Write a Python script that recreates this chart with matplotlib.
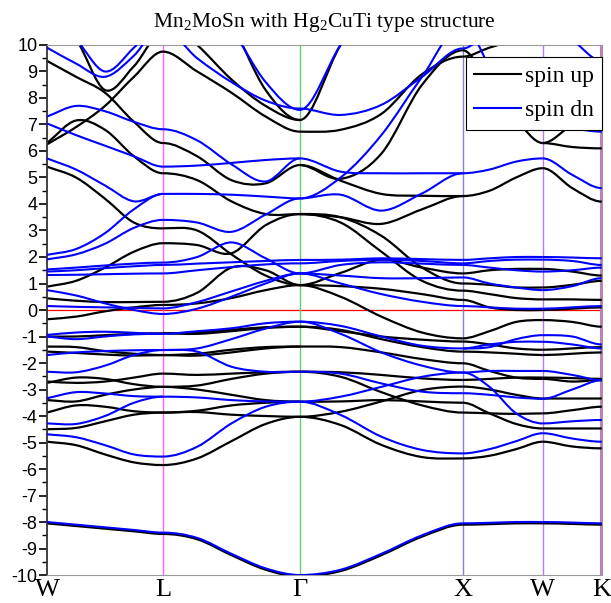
import numpy as np
import matplotlib.pyplot as plt
from matplotlib.lines import Line2D
from matplotlib.path import Path
from matplotlib.patches import PathPatch

plt.rcParams['mathtext.fontset'] = 'custom'
plt.rcParams['mathtext.rm'] = 'Liberation Serif'

# path: W - L - Gamma - X - W - K (distance along the path)
kpath = [0, 116, 253, 416, 496, 555]
klabels = ['W', 'L', 'Γ', 'X', 'W', 'K']
ncols = [5, 5, 5, 4, 3]

# energies (eV) read at evenly spaced points along each segment
up_WL = [
    [-8.05, -8.15, -8.25, -8.35, -8.45],
    [-4.97, -5.1, -5.45, -5.75, -5.85],
    [-4.5, -4.45, -4.2, -3.95, -3.87],
    [-3.87, -3.6, -3.65, -3.82, -3.87],
    [-3.4, -3.45, -3.2, -3.0, -2.9],
    [-2.75, -2.55, -2.6, -2.8, -2.9],
    [-2.7, -2.75, -2.7, -2.55, -2.4],
    [-1.57, -1.62, -1.68, -1.72, -1.7],
    [-1.38, -1.4, -1.55, -1.65, -1.7],
    [-1.0, -1.0, -0.95, -0.9, -0.88],
    [-0.35, -0.25, -0.05, 0.1, 0.19],
    [0.44, 0.35, 0.3, 0.3, 0.31],
    [0.88, 1.1, 1.6, 2.2, 2.52],
    [5.41, 5.0, 4.2, 3.3, 3.08],
    [6.3, 7.15, 6.8, 5.8, 5.16],
    [6.25, 6.9, 7.7, 8.8, 9.75],
    [9.4, 8.8, 8.2, 7.1, 6.3],
    [11.0, 10.2, 8.3, 9.2, 10.5],
]
dn_WL = [
    [-8.0, -8.1, -8.2, -8.3, -8.4],
    [-4.69, -4.8, -5.1, -5.45, -5.53],
    [-4.28, -4.3, -4.0, -3.5, -3.27],
    [-3.33, -3.1, -3.15, -3.25, -3.27],
    [-2.33, -2.35, -2.1, -1.7, -1.51],
    [-1.7, -1.6, -1.55, -1.52, -1.51],
    [-0.94, -0.85, -0.82, -0.86, -0.9],
    [-1.0, -1.1, -1.0, -0.92, -0.9],
    [0.15, 0.12, 0.1, 0.08, 0.06],
    [0.75, 0.55, 0.25, 0.0, -0.15],
    [1.32, 1.33, 1.35, 1.37, 1.38],
    [1.45, 1.5, 1.58, 1.65, 1.7],
    [1.53, 1.6, 1.68, 1.75, 1.79],
    [1.91, 2.1, 2.5, 3.1, 3.4],
    [2.08, 2.3, 2.9, 3.8, 4.38],
    [5.72, 5.3, 4.7, 4.1, 4.38],
    [7.04, 6.6, 6.2, 5.8, 5.41],
    [7.3, 7.7, 7.5, 7.1, 6.82],
    [9.9, 9.3, 8.8, 9.6, 10.8],
    [11.0, 10.2, 9.0, 9.9, 11.0],
]

up_LG = [
    [-8.45, -8.65, -9.25, -9.8, -10.05],
    [-5.85, -5.6, -4.95, -4.3, -4.03],
    [-3.87, -3.85, -3.95, -4.0, -4.03],
    [-3.87, -3.8, -3.6, -3.5, -3.46],
    [-2.9, -2.85, -2.6, -2.4, -2.33],
    [-2.9, -3.0, -3.2, -3.4, -3.46],
    [-2.4, -2.45, -2.4, -2.35, -2.33],
    [-1.7, -1.65, -1.5, -1.4, -1.38],
    [-1.7, -1.72, -1.6, -1.45, -1.38],
    [-0.88, -0.85, -0.75, -0.65, -0.63],
    [-0.88, -0.9, -0.8, -0.68, -0.63],
    [0.19, 0.25, 0.45, 0.75, 0.94],
    [0.31, 0.65, 1.6, 1.5, 0.94],
    [2.52, 2.45, 2.14, 3.2, 3.62],
    [3.08, 3.0, 2.1, 1.3, 0.94],
    [5.16, 4.9, 4.1, 3.62, 3.62],
    [6.3, 5.8, 4.9, 4.78, 5.47],
    [9.75, 9.0, 8.2, 7.3, 6.73],
    [11.0, 10.0, 8.7, 7.7, 7.17],
    [14.0, 12.5, 10.8, 8.3, 7.17],
]
dn_LG = [
    [-8.4, -8.6, -9.2, -9.75, -10.0],
    [-5.53, -5.16, -4.28, -3.65, -3.46],
    [-3.27, -3.3, -3.4, -3.45, -3.46],
    [-1.51, -1.57, -2.14, -2.33, -2.33],
    [-1.51, -1.45, -1.1, -0.7, -0.44],
    [-0.9, -0.8, -0.69, -0.5, -0.44],
    [-0.15, 0.05, 0.5, 1.0, 1.38],
    [0.06, 0.3, 0.7, 1.1, 1.38],
    [1.38, 1.5, 1.62, 1.72, 1.76],
    [1.7, 1.75, 1.8, 1.85, 1.89],
    [1.79, 2.0, 2.55, 1.95, 1.38],
    [3.4, 3.3, 2.95, 3.6, 4.21],
    [4.38, 4.38, 4.35, 4.28, 4.21],
    [5.41, 5.45, 5.55, 5.66, 5.72],
    [6.82, 6.4, 5.5, 4.85, 5.72],
    [10.6, 9.5, 8.6, 7.9, 7.6],
    [13.0, 12.0, 10.6, 8.6, 7.55],
]

up_GX = [
    [-10.05, -9.85, -9.25, -8.55, -8.1],
    [-4.03, -4.34, -5.09, -5.55, -5.6],
    [-4.03, -3.84, -3.45, -3.02, -2.89],
    [-3.46, -3.45, -3.4, -3.45, -3.5],
    [-2.33, -2.52, -3.1, -3.6, -3.87],
    [-2.33, -2.35, -2.45, -2.58, -2.64],
    [-1.38, -1.4, -1.6, -1.85, -2.01],
    [-0.63, -0.75, -1.1, -1.4, -1.57],
    [-0.63, -0.8, -1.0, -1.12, -1.19],
    [0.94, 0.5, -0.25, -0.85, -1.07],
    [0.94, 0.9, 0.8, 0.6, 0.38],
    [0.94, 1.4, 1.9, 1.6, 1.38],
    [3.62, 3.3, 2.2, 1.1, 0.73],
    [3.62, 3.5, 2.8, 1.6, 1.0],
    [3.62, 3.5, 3.25, 3.8, 4.3],
    [5.47, 4.88, 4.38, 4.31, 4.3],
    [5.47, 4.95, 5.9, 8.5, 9.8],
    [6.73, 6.8, 7.4, 8.9, 9.56],
    [7.17, 10.0, 12.0, 13.0, 14.0],
]
dn_GX = [
    [-10.0, -9.8, -9.2, -8.5, -8.05],
    [-3.46, -3.96, -4.78, -5.28, -5.41],
    [-3.46, -3.27, -2.9, -2.52, -2.36],
    [-2.33, -2.4, -2.77, -3.08, -3.14],
    [-0.44, -0.9, -1.6, -2.1, -2.36],
    [-0.44, -0.6, -1.0, -1.35, -1.45],
    [1.38, 1.0, 0.6, 0.31, 0.15],
    [1.38, 1.3, 1.2, 1.2, 1.23],
    [1.38, 1.7, 1.8, 1.75, 1.7],
    [1.76, 1.85, 1.9, 1.85, 1.76],
    [1.89, 1.9, 1.95, 1.92, 1.89],
    [4.21, 5.0, 6.6, 8.8, 10.8],
    [4.21, 4.35, 3.75, 4.4, 5.16],
    [5.72, 5.22, 5.16, 5.16, 5.16],
    [7.6, 7.36, 7.74, 8.8, 9.87],
    [7.55, 10.0, 12.0, 13.0, 14.0],
]

up_XW = [
    [-8.1, -8.08, -8.05, -8.05],
    [-5.6, -5.5, -5.25, -4.97],
    [-3.5, -3.9, -4.3, -4.47],
    [-3.87, -3.9, -3.92, -3.9],
    [-2.89, -3.0, -3.2, -3.34],
    [-2.64, -2.6, -2.55, -2.55],
    [-2.01, -2.3, -2.55, -2.6],
    [-1.57, -1.6, -1.65, -1.7],
    [-1.19, -1.3, -1.45, -1.5],
    [-1.07, -0.8, -0.45, -0.38],
    [0.38, 0.1, 0.0, 0.0],
    [0.73, 0.6, 0.45, 0.4],
    [1.0, 0.95, 0.85, 0.85],
    [1.38, 1.5, 1.55, 1.55],
    [4.3, 4.5, 5.0, 5.35],
    [9.8, 8.5, 7.2, 6.3],
    [9.56, 9.9, 10.2, 10.5],
]
dn_XW = [
    [-8.05, -8.03, -8.0, -8.0],
    [-5.41, -5.25, -4.95, -4.65],
    [-2.36, -2.9, -3.9, -4.28],
    [-3.14, -3.2, -3.3, -3.35],
    [-2.36, -2.3, -2.3, -2.3],
    [-1.45, -1.3, -1.2, -1.2],
    [-1.45, -1.4, -1.1, -0.95],
    [0.15, 0.1, 0.05, 0.05],
    [1.23, 1.0, 0.85, 0.75],
    [1.7, 1.6, 1.5, 1.45],
    [1.76, 1.85, 1.9, 1.9],
    [1.89, 1.95, 2.0, 2.0],
    [5.16, 5.3, 5.6, 5.72],
    [10.8, 9.2, 7.8, 6.98],
    [9.87, 10.5, 11.0, 11.5],
]

up_WK = [
    [-8.05, -8.07, -8.1],
    [-4.97, -5.15, -5.22],
    [-4.47, -4.47, -4.47],
    [-3.9, -3.78, -3.65],
    [-3.34, -3.34, -3.34],
    [-2.55, -2.57, -2.6],
    [-2.6, -2.7, -2.64],
    [-1.7, -1.65, -1.6],
    [-1.5, -1.45, -1.4],
    [-0.38, -0.45, -0.63],
    [0.0, 0.05, 0.1],
    [0.4, 0.4, 0.38],
    [0.85, 0.95, 1.1],
    [1.55, 1.45, 1.3],
    [5.35, 4.6, 4.09],
    [6.3, 6.15, 6.1],
    [6.3, 7.0, 7.6],
]
dn_WK = [
    [-8.0, -8.02, -8.05],
    [-4.65, -4.85, -4.97],
    [-4.28, -4.2, -4.15],
    [-3.35, -3.0, -2.65],
    [-2.3, -2.45, -2.65],
    [-1.2, -1.3, -1.45],
    [-0.95, -1.0, -1.3],
    [0.05, 0.1, 0.15],
    [0.75, 0.9, 1.2],
    [1.45, 1.5, 1.6],
    [1.9, 1.85, 1.7],
    [2.0, 1.98, 1.95],
    [5.72, 5.1, 4.6],
    [6.98, 6.85, 6.73],
    [11.0, 10.2, 9.4],
]

up_bands = [up_WL, up_LG, up_GX, up_XW, up_WK]
dn_bands = [dn_WL, dn_LG, dn_GX, dn_XW, dn_WK]
vline_colors = ['#ff66ff', '#66cc66', '#8080e0', '#bb77ff', '#c080c0']


def band_path(xs, ys, free_start):
    # smooth curve through the read points (flat at high-symmetry points)
    xs = np.asarray(xs, float)
    ys = np.asarray(ys, float)
    m = np.zeros(len(xs))
    m[1:-1] = (ys[2:] - ys[:-2]) / (xs[2:] - xs[:-2])
    if free_start:
        m[0] = (ys[1] - ys[0]) / (xs[1] - xs[0])
    verts = [(xs[0], ys[0])]
    codes = [Path.MOVETO]
    for i in range(len(xs) - 1):
        h = xs[i + 1] - xs[i]
        verts += [(xs[i] + h / 3, ys[i] + m[i] * h / 3),
                  (xs[i + 1] - h / 3, ys[i + 1] - m[i + 1] * h / 3),
                  (xs[i + 1], ys[i + 1])]
        codes += [Path.CURVE4] * 3
    return Path(verts, codes)


fig = plt.figure(figsize=(6.11, 6.03), dpi=100)
ax = fig.add_axes([0.0769, 0.0464, 0.908, 0.879])

# Fermi level and high-symmetry lines
ax.axhline(0, color='red', lw=0.9, zorder=1)
for kv, c in zip(kpath[1:], vline_colors):
    ax.axvline(kv, color=c, lw=1.0 if kv != kpath[-1] else 3.0, zorder=1)

for i in range(len(kpath) - 1):
    kk = np.linspace(kpath[i], kpath[i + 1], ncols[i])
    for band in up_bands[i]:
        ax.add_patch(PathPatch(band_path(kk, band, i == 0), fill=False,
                               edgecolor='black', lw=1.6, zorder=2))
    for band in dn_bands[i]:
        ax.add_patch(PathPatch(band_path(kk, band, i == 0), fill=False,
                               edgecolor='#0000ff', lw=1.5, zorder=3))

ax.set_xlim(kpath[0], kpath[-1])
ax.set_ylim(-10, 10)
ax.set_yticks(np.arange(-10, 11, 1))
ax.set_yticks(np.arange(-10, 10.5, 0.5), minor=True)
ax.set_yticklabels([str(v) for v in range(-10, 11)], fontfamily='Liberation Sans', fontsize=13)
ax.tick_params(axis='y', which='major', direction='out', length=6, width=1.2, pad=1)
ax.tick_params(axis='y', which='minor', direction='out', length=3.5, width=1.0)
ax.set_xticks(kpath)
ax.set_xticklabels(klabels, fontfamily='Liberation Serif', fontsize=19)
ax.tick_params(axis='x', length=0, pad=3)

ax.spines['left'].set_color('#333333')
ax.spines['left'].set_linewidth(1.3)
for s in ['top', 'bottom', 'right']:
    ax.spines[s].set_color('#999999')

ax.set_title('Mn$_2$MoSn with Hg$_2$CuTi type structure', fontfamily='Liberation Serif',
             fontsize=15.5, pad=13)

handles = [Line2D([], [], color='black', lw=1.5), Line2D([], [], color='#0000ff', lw=1.5)]
leg = ax.legend(handles, ['spin up', 'spin dn'], loc='upper right', bbox_to_anchor=(1.0, 0.977),
                borderaxespad=0, fancybox=False, framealpha=1, edgecolor='black',
                prop={'family': 'Liberation Serif', 'size': 17}, handlelength=2.0,
                handletextpad=0.15, borderpad=0.35, labelspacing=0.55)
leg.get_frame().set_linewidth(0.8)
leg.set_zorder(10)

fig.savefig('out.png', dpi=100)
